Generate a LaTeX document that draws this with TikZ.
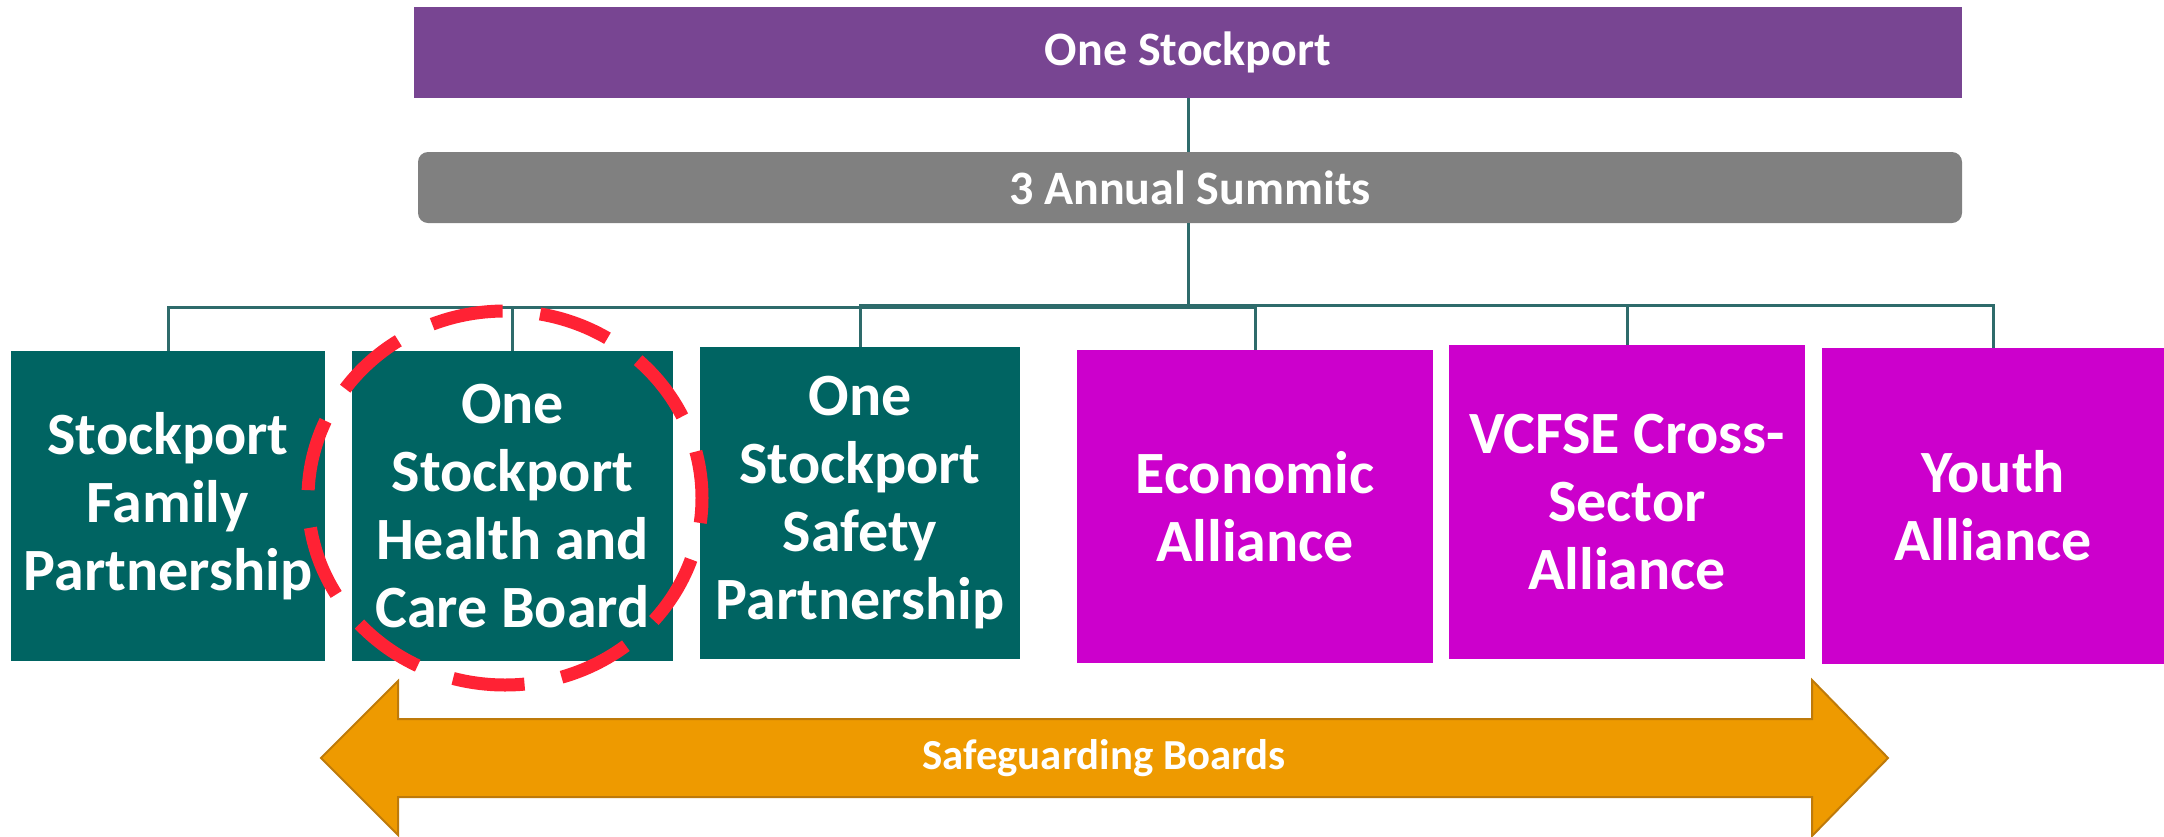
\documentclass[tikz,border=0pt]{standalone}
\usepackage{fontspec}
\setmainfont{Carlito}
\definecolor{cpurple}{RGB}{120,69,146}
\definecolor{cgrey}{RGB}{128,128,128}
\definecolor{cteal}{RGB}{0,100,98}
\definecolor{cmag}{RGB}{204,0,204}
\definecolor{corange}{RGB}{238,154,0}
\definecolor{corangeD}{RGB}{190,122,10}
\definecolor{cred}{RGB}{255,34,52}
\definecolor{cline}{RGB}{46,107,107}
\tikzset{
  bar/.style={fill=#1, draw=none, text=white, font=\fontsize{24pt}{28pt}\selectfont\bfseries, inner sep=0pt},
  unit/.style={fill=#1, draw=none, text=white, align=center, inner sep=0pt,
     font=\fontsize{30pt}{34pt}\selectfont\bfseries},
  conn/.style={draw=cline, line width=1.5pt},
}
\begin{document}
\begin{tikzpicture}[x=0.5pt,y=-0.5pt]
\useasboundingbox (0,0) rectangle (2164,836);
% top bars
\node[bar=cpurple, minimum width=774pt, minimum height=45.5pt] (top) at (1188,52.5) {One Stockport};
\node[bar=cgrey, rounded corners=5pt, minimum width=772pt, minimum height=35.5pt] (sum) at (1190,187.5) {3 Annual Summits};
% units
\node[unit=cteal, minimum width=157pt, minimum height=155pt] (fam) at (168,506) {Stockport\\Family\\Partnership};
\node[unit=cteal, minimum width=160.5pt, minimum height=155pt] (hlth) at (512.5,506) {One\\Stockport\\Health and\\Care Board};
\node[unit=cteal, minimum width=160pt, minimum height=156pt] (safe) at (860,503) {One\\Stockport\\Safety\\Partnership};
\node[unit=cmag, minimum width=178pt, minimum height=156.5pt] (econ) at (1255,506.5) {Economic\\Alliance};
\node[unit=cmag, minimum width=178pt, minimum height=157pt] (vcf) at (1627,502) {VCFSE Cross-\\Sector\\Alliance};
\node[unit=cmag, minimum width=171pt, minimum height=158pt] (youth) at (1993,506) {Youth\\Alliance};
% connectors
\coordinate (busL) at (1188,307);
\coordinate (busR) at (1188,305);
\draw[conn] (top.south) -- (top.south |- sum.north);
\draw[conn] (top.south |- sum.south) -- (busL);
\draw[conn] (busL) -| (fam.north);
\draw[conn] (busL) -| (hlth.north);
\draw[conn] (busR) -| (safe.north);
\draw[conn] (busL) -| (econ.north);
\draw[conn] (busR) -| (vcf.north);
\draw[conn] (busR) -| (youth.north);
% safeguarding arrow
\fill[corange, draw=corangeD, line width=1pt] (321,758) -- (398,681) -- (398,719) -- (1812,719) -- (1812,680) -- (1888,758) -- (1812,836) -- (1812,797) -- (398,797) -- (398,835) -- cycle;
\node[text=white, font=\fontsize{21.4pt}{25pt}\selectfont\bfseries, inner sep=0pt] (safeg) at (1104,758) {Safeguarding Boards};
% red dashed ellipse
\draw[cred, line width=6.5pt, dash pattern=on 36pt off 18.85pt, dash phase=12.5pt] (505,498) ellipse [x radius=98.5pt, y radius=93.5pt];
\end{tikzpicture}
\end{document}
